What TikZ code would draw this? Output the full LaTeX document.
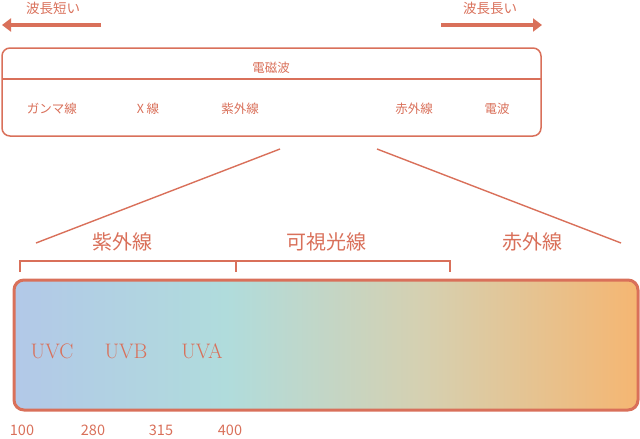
\documentclass[tikz,border=0pt]{standalone}
\usepackage{fontspec}
\newfontfamily\jp{Noto Sans CJK JP}
\usetikzlibrary{arrows.meta}
\definecolor{ac}{RGB}{217,112,90}
\definecolor{g1}{RGB}{178,200,232}
\definecolor{g2}{RGB}{176,220,220}
\definecolor{g3}{RGB}{214,208,176}
\definecolor{g4}{RGB}{245,182,114}
% path bbox maps to 25bp..75bp
\pgfdeclarehorizontalshading{spec}{100bp}{color(0bp)=(g1); color(25bp)=(g1); color(42bp)=(g2); color(58bp)=(g3); color(75bp)=(g4); color(100bp)=(g4)}
\tikzset{
  lbl/.style={text=ac,font=\jp\fontsize{12.5}{12.5}\selectfont,inner sep=0},
  toplbl/.style={text=ac,font=\jp\fontsize{13.5}{13.5}\selectfont,inner sep=0},
  biglbl/.style={text=ac,font=\jp\fontsize{20}{20}\selectfont,inner sep=0},
  uv/.style={text=ac,font=\rmfamily\fontsize{21}{21}\selectfont,inner sep=0},
  num/.style={text=ac,font=\jp\fontsize{14.5}{14.5}\selectfont,inner sep=0},
  bigarrow/.style={draw=ac,line width=4.5pt,-{Triangle[length=9pt,width=13pt]}},
}
\begin{document}
\begin{tikzpicture}[x=1pt,y=-1pt]
\useasboundingbox (0,0) rectangle (640,439);
% top arrows
\coordinate (la1) at (101,25); \coordinate (la2) at (2,25);
\coordinate (ra1) at (441,25); \coordinate (ra2) at (542,25);
\draw[bigarrow] (la1) -- (la2);
\draw[bigarrow] (ra1) -- (ra2);
\node[toplbl] (short) at (53,8) {波長短い};
\node[toplbl] (long) at (490,8) {波長長い};
% EM box
\draw[ac,line width=1.5pt,rounded corners=8pt] (2,48) rectangle (541,136);
\coordinate (hl1) at (2,79); \coordinate (hl2) at (541,79);
\draw[ac,line width=1.5pt] (hl1) -- (hl2);
\node[lbl] (em) at (271,68) {電磁波};
\node[lbl] (gam) at (52,109) {ガンマ線};
\node[lbl] (xr) at (148,109) {X 線};
\node[lbl] (uvs) at (240,109) {紫外線};
\node[lbl] (irs) at (414,109) {赤外線};
\node[lbl] (rad) at (497,109) {電波};
% zoom lines
\coordinate (z1) at (280,149); \coordinate (z2) at (36,243);
\coordinate (z3) at (377,149); \coordinate (z4) at (621,243);
\draw[ac,line width=1.4pt] (z1) -- (z2);
\draw[ac,line width=1.4pt] (z3) -- (z4);
% big labels
\node[biglbl] (uvb) at (122,242) {紫外線};
\node[biglbl] (vis) at (326,242) {可視光線};
\node[biglbl] (irb) at (532,242) {赤外線};
% bracket
\draw[ac,line width=2.4pt] (20,272) -- (20,261) -- (450,261) -- (450,272);
\coordinate (bm1) at (236,261); \coordinate (bm2) at (236,272);
\draw[ac,line width=2.4pt] (bm1) -- (bm2);
% gradient bar
\draw[ac,line width=3pt,rounded corners=10pt,shading=spec] (14,280) rectangle (638,410);
\node[uv] (uvc) at (52,351) {UVC};
\node[uv] (uvbb) at (126,351) {UVB};
\node[uv] (uva) at (202,351) {UVA};
% numbers
\node[num] (n1) at (22,430) {100};
\node[num] (n2) at (93,430) {280};
\node[num] (n3) at (161,430) {315};
\node[num] (n4) at (230,430) {400};
\end{tikzpicture}
\end{document}
